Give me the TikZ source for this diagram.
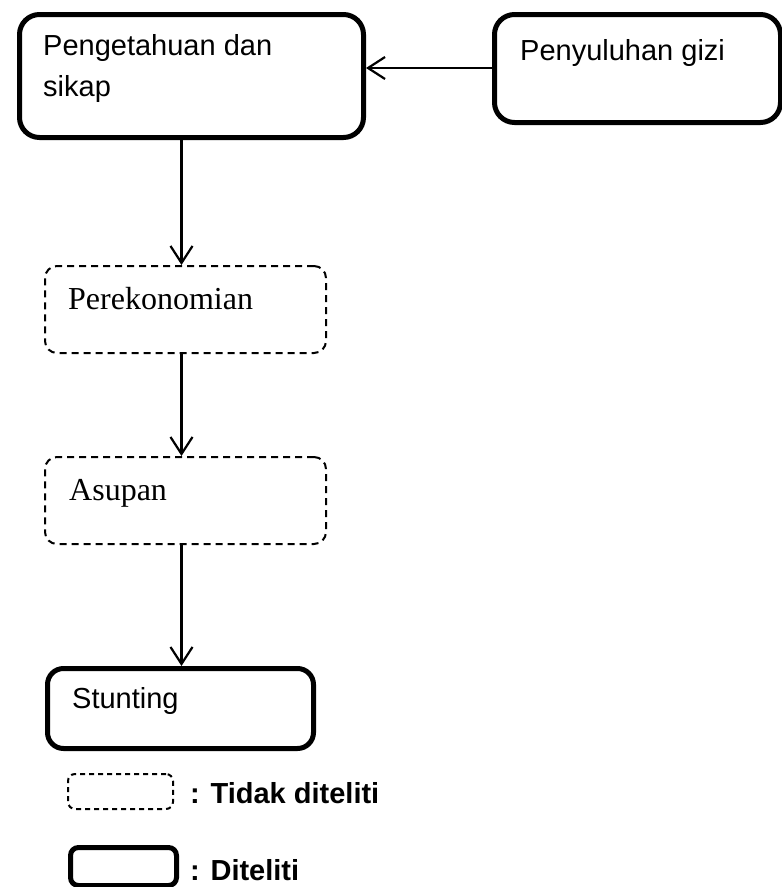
\documentclass[tikz,border=0pt]{standalone}
\usepackage{fontspec}
\setmainfont{Liberation Sans}
\newfontfamily\seriffont{Liberation Serif}
\usetikzlibrary{arrows.meta}
\begin{document}
\begin{tikzpicture}[x=1pt,y=-1pt,
  solidbox/.style={draw, line width=5pt, rounded corners=20pt, anchor=north west, inner sep=0pt},
  dashbox/.style={draw, line width=2pt, dash pattern=on 7pt off 5pt, rounded corners=12pt, anchor=north west, inner sep=0pt},
  lab/.style={anchor=base west, inner sep=0pt, font=\fontsize{29}{40}\selectfont},
  slab/.style={anchor=base west, inner sep=0pt, font=\seriffont\fontsize{32}{38}\selectfont},
  leg/.style={anchor=base west, inner sep=0pt, font=\bfseries\fontsize{29}{34}\selectfont},
  conn/.style={line width=2.2pt, -{Straight Barb[length=17pt,width=22pt,line width=2.2pt]}}]
\useasboundingbox (0,0) rectangle (782,887);
\node[solidbox, minimum width=344pt, minimum height=123pt] (pk) at (17,12) {};
\node[lab] (pkt1) at (43,55) {Pengetahuan dan};
\node[lab] (pkt2) at (43,96) {sikap};
\node[solidbox, minimum width=286pt, minimum height=108pt] (pg) at (492,12) {};
\node[lab] (pgt) at (520,60) {Penyuluhan gizi};
\node[dashbox, minimum width=281pt, minimum height=87pt] (pe) at (44,265) {};
\node[slab] (pet) at (68,309) {Perekonomian};
\node[dashbox, minimum width=281pt, minimum height=87pt] (as) at (44,456) {};
\node[slab] (ast) at (69,500) {Asupan};
\node[solidbox, minimum width=266pt, minimum height=80pt, rounded corners=16pt] (st) at (45,666) {};
\node[lab] (stt) at (72,708) {Stunting};
\node[dashbox, minimum width=105pt, minimum height=35pt, rounded corners=7pt, dash pattern=on 5pt off 4pt] (l1) at (67,773) {};
\node[leg] (l1t) at (190,803) {: Tidak diteliti};
\node[solidbox, minimum width=106pt, minimum height=38pt, rounded corners=8pt] (l2) at (68,845) {};
\node[leg] (l2t) at (190,880) {: Diteliti};
\draw[conn] (pg.west |- 0,68) -- (pk.east |- 0,68);
\draw[conn] (181.5,0 |- pk.south) -- (181.5,0 |- pe.north);
\draw[conn] (181.5,0 |- pe.south) -- (181.5,0 |- as.north);
\draw[conn] (181.5,0 |- as.south) -- (181.5,0 |- st.north);
\end{tikzpicture}
\end{document}
